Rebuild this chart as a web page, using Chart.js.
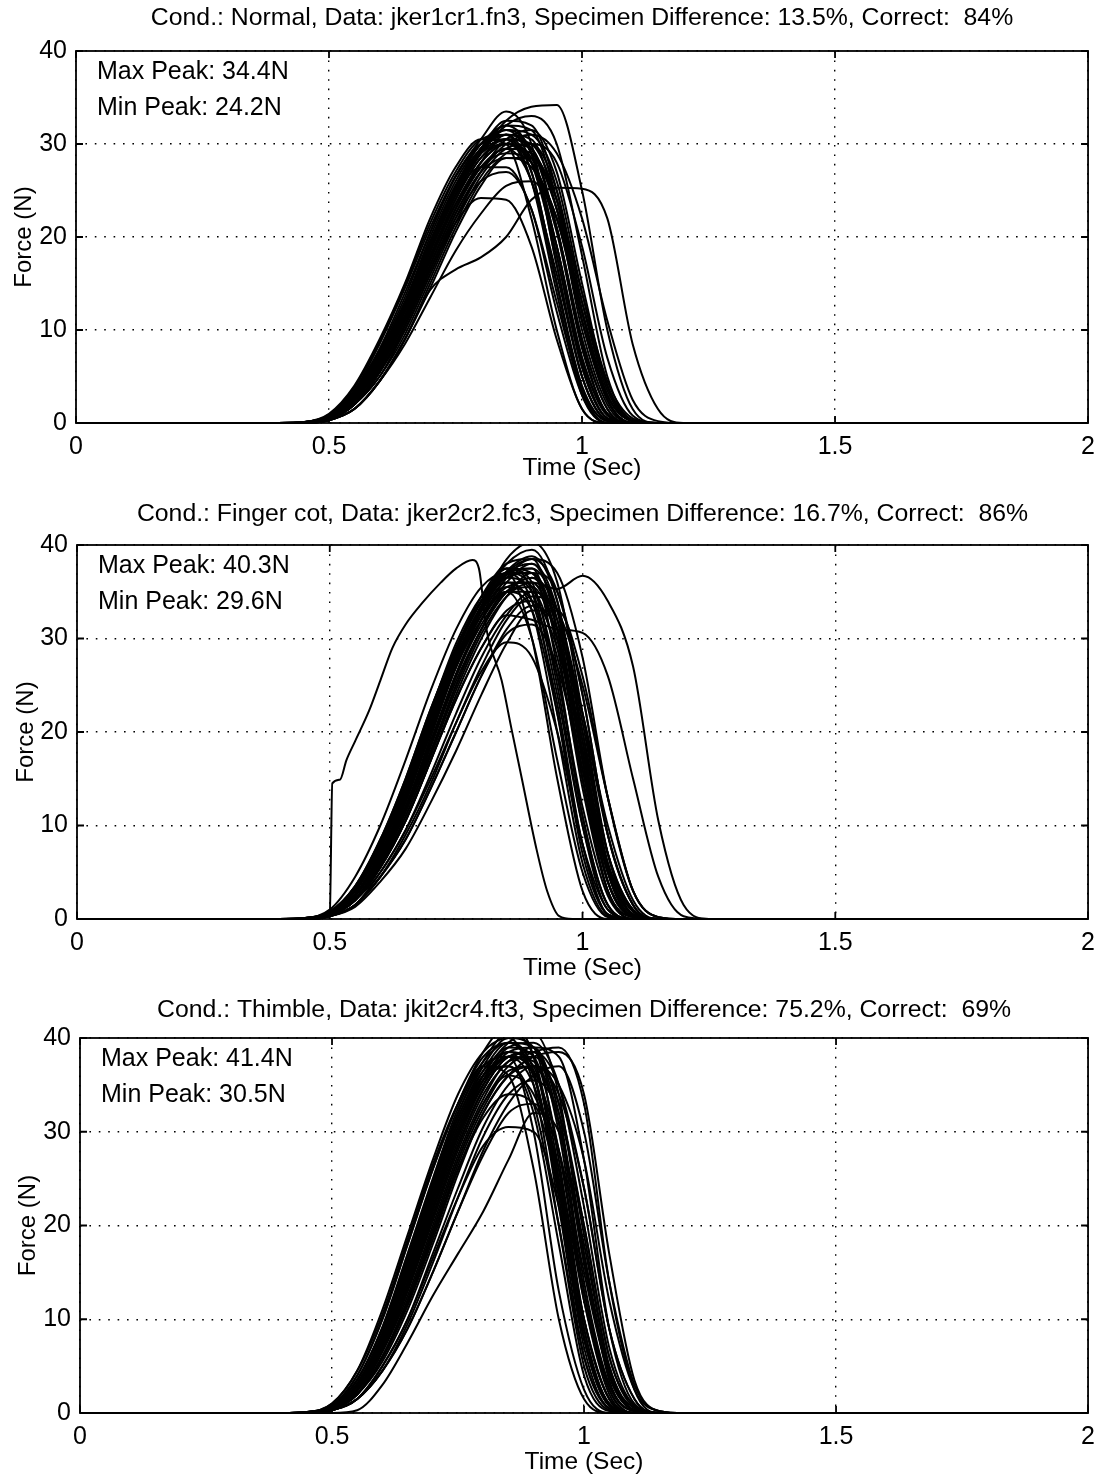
<!DOCTYPE html>
<html>
<head>
<meta charset="utf-8">
<title>Force vs time</title>
<script src="https://cdn.jsdelivr.net/npm/chart.js@4.4.1/dist/chart.umd.min.js"></script>
<style>
  html, body { margin: 0; padding: 0; background: #fff; }
  body { width: 1104px; height: 1477px; position: relative; overflow: hidden; }
  .panel { position: absolute; left: 0; width: 1104px; }
  canvas { display: block; }
</style>
</head>
<body>
<div class="panel" style="top:0px"><canvas id="normal" width="1104" height="493"></canvas></div>
<div class="panel" style="top:494px"><canvas id="finger" width="1104" height="493"></canvas></div>
<div class="panel" style="top:988px"><canvas id="thimble" width="1104" height="489"></canvas></div>
<script>
// axis ticks
const X_TICKS = [0, 0.5, 1, 1.5, 2];
const Y_TICKS = [0, 10, 20, 30, 40];

const TITLES = [
    'Cond.: Normal, Data: jker1cr1.fn3, Specimen Difference: 13.5%, Correct:  84%',
    'Cond.: Finger cot, Data: jker2cr2.fc3, Specimen Difference: 16.7%, Correct:  86%',
    'Cond.: Thimble, Data: jkit2cr4.ft3, Specimen Difference: 75.2%, Correct:  69%'
];
const MAX_PEAKS = ['34.4', '40.3', '41.4'];
const MIN_PEAKS = ['24.2', '29.6', '30.5'];

// sample times (s) shared by the trials
const TIME = [0, 0.4, 0.45, 0.5, 0.55, 0.6, 0.65, 0.7, 0.75, 0.8, 0.85, 0.9, 0.95, 1, 1.05, 1.1, 1.15, 1.2, 1.25, 2];

// force (N) per trial
const NORMAL_FORCE = [
    [0,0,0.1,1,4,9,15,22,27.5,30.5,30,22,10,1.5,0,0,0,0,0,0],
    [0,0,0.1,0.8,3.5,8.5,14.5,21,26.5,30,31,26,14,3,0,0,0,0,0,0],
    [0,0,0.1,0.7,3,7.5,13,19.5,25.5,29.5,31.5,29,18,6,0.5,0,0,0,0,0],
    [0,0,0,0.5,2.5,6.5,11.5,18.5,24.5,29.5,31,29,17,5,0.3,0,0,0,0,0],
    [0,0,0,0.5,2.5,6,11,17.5,23.5,28,30,29.5,21,9,1.5,0,0,0,0,0],
    [0,0,0,0.6,3,7,12.5,19,25,29.5,32,31.5,24,11,2.5,0,0,0,0,0],
    [0,0,0,0.4,2,5.5,10.5,17,23,27.5,29.5,26,15,4,0.2,0,0,0,0,0],
    [0,0,0,0.4,2,5,9.5,15.5,21.5,26.5,29.5,30,25,13,3.5,0.2,0,0,0,0],
    [0,0,0,0.3,1.5,4.5,9,14.5,20.5,25.5,28.5,28.5,23,12,3,0.2,0,0,0,0],
    [0,0,0.1,0.8,3.5,8,14,20.5,26.5,30.5,33.5,30,17,5,0.3,0,0,0,0,0],
    [0,0,0,0.5,2.5,6.5,12,18.5,24.5,29,32,33,30,18,5,0.3,0,0,0,0],
    [0,0,0,0.5,2.5,6.5,12,18.5,24.5,29,32.5,34,34.2,25,10,1.5,0,0,0,0],
    [0,0,0,0.4,2,5.5,10.5,16.5,22,26,27,23,12,3,0,0,0,0,0,0],
    [0,0,0,0.4,2,5,10,16,21.5,24.2,24,19,9,1.5,0,0,0,0,0,0],
    [0,0,0,0.3,1.5,4.5,9,14.3,16.5,17.8,20,24,25.3,25.2,22,8.5,1.5,0,0,0],
    [0,0,0,0.5,2.5,6.5,11.5,18,23.5,27.5,29,28,21,9,1.5,0,0,0,0,0],
    [0,0,0,0.6,3,7,12.5,19,25,29,30.5,27,15,3.5,0,0,0,0,0,0],
    [0,0,0,0.5,2.5,6.5,12,18.5,24.5,29,31.5,31,26,14,4,0.3,0,0,0,0],
    [0,0,0,0.4,2,5.5,10.5,16.5,22.5,27,28.5,27.5,22,11,2.5,0,0,0,0,0],
    [0,0,0.1,0.7,3.2,7.5,13,19.5,25.5,29.5,31,29,19,7,1,0,0,0,0,0],
    [0,0,0,0.3,1.5,4.5,9,15,21,26,29,30,28,19,7,0.8,0,0,0,0],
    [0,0,0,0.5,2.5,6,11,17,23,27.5,29.5,29,24,14,4.5,0.5,0,0,0,0],
    [0,0,0,0.6,3,7,12.5,19,24.5,27.5,27.5,23,13,3.5,0.2,0,0,0,0,0],
    [0,0,0,0.4,2,5.5,10.5,17,23,28,31,30.5,23,10,2,0,0,0,0,0],
    [0,0,0,0.3,1.5,4.5,8.5,13.5,18.5,22.5,25.5,26,22,13,4,0.3,0,0,0,0],
    [0,0,0,0.4,2,5.5,10.5,16.5,22.5,27,30,31,29,22,11,2.5,0.2,0,0,0],
    [0,0,0,0.6,3,7.5,13,20,26,30,32,29,19,6.5,0.5,0,0,0,0,0],
    [0,0,0,0.5,2.5,6,11.5,18,24,28.5,30,28.5,20.5,8,1,0,0,0,0,0],
    [0,0,0,0.4,2,5.5,10,16,22,27,30.5,31.5,27,15,4,0.3,0,0,0,0],
    [0,0,0,0.5,2.8,6.8,12.2,19,25,29,30,28,22,12,3,0.2,0,0,0,0],
    [0,0,0.1,0.9,3.8,8.8,14.8,21.5,27,30.5,31,27,15,3.5,0,0,0,0,0,0],
    [0,0,0,0.6,3,7.2,12.8,19.5,25.5,30,31.5,28,18,6,0.5,0,0,0,0,0],
    [0,0,0,0.5,2.6,6.6,12,18.5,24.5,29,30.5,29.5,23,11,2.5,0,0,0,0,0],
    [0,0,0.1,0.7,3.3,7.8,13.5,20.5,26.5,30,30.5,26,16,5,0.3,0,0,0,0,0],
    [0,0,0,0.5,2.4,6.2,11.3,17.8,24,28.5,30.5,30,24,12,3,0.2,0,0,0,0],
    [0,0,0,0.6,2.9,7,12.5,19.2,25.3,29.3,31,29.5,21,8.5,1,0,0,0,0,0],
    [0,0,0,0.4,2.2,5.8,11,17.5,23.5,28,30,28,19,7,0.8,0,0,0,0,0],
    [0,0,0,0.5,2.7,6.8,12.3,19,25,29.5,32.5,32,25,12,2.5,0,0,0,0,0]
];

const FINGER_FORCE = [
    [0,0,0.1,1,4.5,10,17,24.5,31,35.5,37,30,15,3,0,0,0,0,0,0],
    [0,0,0.1,0.8,3.5,8.5,15,22.5,29,34,37.5,35,22,7,0.5,0,0,0,0,0],
    [0,0,0,0.6,3,7.5,13.5,21,28,33.5,37,37,27,11,1.5,0,0,0,0,0],
    [0,0,0,0.5,2.5,7,13,20.5,27.5,33,36.5,35,24,10,1.5,0,0,0,0,0],
    [0,0,0,0.5,2.5,6.5,12,19,26,32,36,38,33,18,5,0.3,0,0,0,0],
    [0,0,0,0.6,3,7.5,14,21.5,28.5,34,38,39.5,34,19,5,0.3,0,0,0,0],
    [0,0,0,0.5,2.5,7,13,20.5,27.5,33.5,38.5,40.3,36,22,7,0.5,0,0,0,0],
    [0,0,0,0.4,2,6,11.5,18,25,31,35,36.5,31,17,5,0.3,0,0,0,0],
    [0,0,0,0.4,2,5.5,10.5,17,24,30,34.5,37,35,24,9,1.5,0,0,0,0],
    [0,0,0,0.3,1.5,5,9.5,15.5,22,28,32.5,35,32,20,7,1,0,0,0,0],
    [0,0,0,0.3,1.5,4.5,8.5,14,20,26,30.5,31.5,27,16,5,0.5,0,0,0,0],
    [0,0,0,0.4,2,5,9.5,15,21,26.5,29.6,28,20,8,1,0,0,0,0,0],
    [0,0,0.1,0.8,3.5,8.5,15,22.5,29,34,36,33,20,6,0.3,0,0,0,0,0],
    [0,0,0,0.6,3,7.5,14,21,28,33,35.5,34,26,12,2.5,0,0,0,0,0],
    [0,0,0,0.5,2.5,6.5,12.5,20,27,32.5,36,36,30,16,4,0.3,0,0,0,0],
    [0,0,0,0.5,2.5,7,13,20,27,32,35,33,22,8,0.5,0,0,0,0,0],
    [0,0,0,0.4,2,6,11.5,18.5,25.5,31,35,36.5,33,22,9,1.5,0,0,0,0],
    [0,0,0.1,0.7,3.5,8,14.5,22,29,34.5,38,38.5,31,15,3,0,0,0,0,0],
    [0,0,0,0.5,2.5,6.5,12,19,26,31.5,35,35.5,30,19,7,1,0,0,0,0],
    [0,0,0,0.3,1.5,4.5,9,14.5,21,27,32,34.5,33,25,13,3,0.2,0,0,0],
    [0,0,0,0.6,3,7.5,13.5,21,28.5,34,37.5,36,25,10,1,0,0,0,0,0],
    [0,0,0,0.5,2.5,7,13,20.5,28,33.5,37,38,32,17,4,0.2,0,0,0,0],
    [0,0,0,0.4,2,5.5,10.5,17,23.5,29,33,34,29,18,6,0.8,0,0,0,0],
    [0,0,0,0.5,2.5,6.5,12,19.5,27,33,37,38.5,35,24,9,1.5,0,0,0,0],
    [0,0,0,0.6,3,7.5,14,21.5,28.5,34,37.5,37,30,15,3,0.2,0,0,0,0],
    [0,0,0,0.3,1.5,4.5,8.5,14,20,26,31,33.5,31,22,10,2,0,0,0,0],
    [0,0,0,0.5,2.5,6.5,12.5,20,27,32.5,35,30,17,5,0.2,0,0,0,0,0],
    [0,0,0,0.4,2,6,11.5,18.5,26,32,36.5,38.5,37,28,13,3,0.2,0,0,0],
    [0,0,0,0.4,2,5.5,11,17.5,24.5,30.5,34.5,36,35.3,36.7,34,27,10.5,1.5,0,0],
    [0,0,0,0.4,2,5.5,10.5,17,23.5,29,32.5,32,31,30.6,26,15,4.5,0.3,0,0],
    [0,0,0,0.3,1.3,4,7.5,12.5,18,24,29.5,33,33,26,13,3,0.2,0,0,0],
    [0,0,0,0.6,3.2,8,14.5,22,29,34,37,35.5,26,11,1.5,0,0,0,0,0],
    [0,0,0,0.5,2.7,7,13,20.5,27.5,33,36.5,37,31,17,4,0.3,0,0,0,0],
    [0,0,0.1,0.7,3.4,8.3,14.8,22.3,29.5,34.5,37,34,23,8,0.5,0,0,0,0,0],
    [0,0,0,0.5,2.5,6.8,12.7,20,27.3,33,36.8,37.5,33,21,7,0.8,0,0,0,0],
    [0,0,0,0.4,2.2,6.2,11.8,19,26.3,32,35.5,36,30,18,5.5,0.5,0,0,0,0],
    [0,0,0,0.6,3,7.7,14.2,21.7,28.8,34,37,37.5,29,14,3,0.2,0,0,0,0],
    [0,0,0,0.5,2.6,6.9,12.8,20.2,27.5,33.2,37.2,38.8,34,20,6,0.5,0,0,0,0],
    [0,0,0,0.4,2.1,5.8,11,17.8,25,31,35,35,28,15,4,0.3,0,0,0,0]
];

// the finger-cot trial that jumps at 0.5 s has its own sampling
const FINGER_EARLY_TIME = [0, 0.4, 0.45, 0.495, 0.5, 0.505, 0.52, 0.533, 0.55, 0.578, 0.6, 0.624, 0.65, 0.683, 0.72, 0.75, 0.782, 0.795, 0.81, 0.84, 0.86, 0.88, 0.908, 0.93, 0.954, 0.98, 2];
const FINGER_EARLY_FORCE = [0, 0, 0.1, 0.3, 0.5, 14.5, 14.9, 17, 19, 22.3, 25.5, 29, 31.5, 33.8, 36, 37.5, 38.4, 37.5, 31, 25.5, 20.2, 15, 7.7, 3, 0.3, 0, 0];

const THIMBLE_FORCE = [
    [0,0,0.1,1,4.5,11,19,27,34,38.5,40,35,20,5,0.3,0,0,0,0,0],
    [0,0,0.1,0.8,4,10,18,26,33,38.5,41.4,38,24,8,0.8,0,0,0,0,0],
    [0,0,0.1,0.7,3.5,9,16.5,24.5,31.5,37,40,39,27,10,1.5,0,0,0,0,0],
    [0,0,0,0.6,3,8,15,23,30,35.5,38,36,22,6,0.5,0,0,0,0,0],
    [0,0,0,0.5,2.5,7,13.5,21,28.5,34.5,38,38.5,30,13,2.5,0,0,0,0,0],
    [0,0,0,0.5,2.5,7,13,20.5,28,34,37.5,39,38,27,9,1,0,0,0,0],
    [0,0,0,0.4,2,6,12,19.5,27,33,37,38.5,39,33,14,2.5,0,0,0,0],
    [0,0,0,0.4,2,5.5,11,18,25.5,32,36,38,38.5,34,17,3.5,0.2,0,0,0],
    [0,0,0,0.6,3,8.5,16,24,31,36,37,32,18,4,0.2,0,0,0,0,0],
    [0,0,0,0.5,2.5,7.5,14.5,22.5,30,35.5,38.5,37,25,9,1,0,0,0,0,0],
    [0,0,0,0.4,2,6,12,19,26,31.5,34,33,24,10,1.5,0,0,0,0,0],
    [0,0,0,0.3,1.5,5,10,16.5,23,28.5,30.5,30,22,8,1,0,0,0,0,0],
    [0,0,0,0.3,1.5,4.5,9.5,16,23,29.5,34,35.5,32,20,6,0.8,0,0,0,0],
    [0,0,0,0,0.3,3,7.5,12.5,17,21.5,27,32,30,18,5,0.3,0,0,0,0],
    [0,0,0.1,0.8,4,10,18,26,33,38,39.5,36,24,8,0.8,0,0,0,0,0],
    [0,0,0,0.6,3,8,15.5,23.5,31,36.5,39.5,39,31,14,3,0.2,0,0,0,0],
    [0,0,0,0.5,2.5,7,14,22,29.5,35,38,36.5,28,13,3,0.2,0,0,0,0],
    [0,0,0,0.4,2,6.5,12.5,20,27.5,33.5,37.5,38,33,19,5,0.5,0,0,0,0],
    [0,0,0,0.5,2.5,7.5,14.5,22.5,30,36,39.5,40.5,34,17,3.5,0.2,0,0,0,0],
    [0,0,0,0.3,1.5,4.5,9,15,21.5,28,33,36,37,30,14,3,0.2,0,0,0],
    [0,0,0,0.6,3,8,15,23,30.5,35.5,37,33,20,6,0.5,0,0,0,0,0],
    [0,0,0,0.5,2.5,7,13.5,21.5,29,35,38.5,39,32,16,4,0.3,0,0,0,0],
    [0,0,0,0.4,2,6,11.5,18.5,26,32,36,37,34,24,9,1.5,0,0,0,0],
    [0,0,0,0.3,1.5,4.5,9,15,21.5,27.5,32,33,28,15,4,0.3,0,0,0,0],
    [0,0,0.1,0.7,3.5,9,16.5,24.5,32,37.5,40.5,38,26,9,1,0,0,0,0,0],
    [0,0,0,0.5,2.5,7,13.5,21,28.5,34.5,38,38.5,35,24,9,1.5,0,0,0,0],
    [0,0,0,0.4,2,6,12,19.5,27,33,36,34,26,12,2.5,0,0,0,0,0],
    [0,0,0,0.3,1.5,5,10,17,24,30.5,35,37,35,27,12,2.5,0.2,0,0,0],
    [0,0,0.1,1,4.5,10.5,18.5,26.5,33,37,36,26,10,1.5,0,0,0,0,0,0],
    [0,0,0,0.6,3,8.5,16,24.5,32,37,38,30,13,2.5,0,0,0,0,0,0],
    [0,0,0,0.6,3.2,8.5,16,24,31.5,36.5,38.5,36,24,8,0.8,0,0,0,0,0],
    [0,0,0,0.5,2.8,7.8,15,23,30.5,36,39,38,28,12,2,0,0,0,0,0],
    [0,0,0.1,0.7,3.6,9.2,17,25,32.5,37.5,39.5,36.5,23,7,0.5,0,0,0,0,0],
    [0,0,0,0.5,2.6,7.2,14,22,29.5,35,38,37.5,31,16,4,0.3,0,0,0,0],
    [0,0,0,0.4,2.3,6.6,13,21,28.5,34.5,38,38.5,33,20,6,0.6,0,0,0,0],
    [0,0,0,0.6,3,8.2,15.5,23.5,31,36,38,35,25,10,1.5,0,0,0,0,0],
    [0,0,0,0.5,2.5,7,13.8,21.8,29.5,35.5,39,39.5,35,22,7,0.8,0,0,0,0],
    [0,0,0,0.4,2,5.8,11.5,19,26.5,32.5,36.5,37,31,17,4.5,0.3,0,0,0,0]
];

const FONT = '"Liberation Sans", Arial, Helvetica, sans-serif';

// plot box and text placement per panel, in canvas pixels
const PANELS = [
    { id: 'normal', curves: NORMAL_FORCE, top: 51, bottom: 423, left: 76, right: 1089, titleGap: 33, xTitleGap: 45, yTitleX: 24 },
    { id: 'finger', curves: FINGER_FORCE, top: 51, bottom: 425, left: 77, right: 1090, titleGap: 31, xTitleGap: 49, yTitleX: 26,
      extra: [{ t: FINGER_EARLY_TIME, f: FINGER_EARLY_FORCE }] },
    { id: 'thimble', curves: THIMBLE_FORCE, top: 50, bottom: 425, left: 80, right: 1095, titleGap: 28, xTitleGap: 49, yTitleX: 28 }
];

function trace(times, forces) {
    return {
        data: times.map((t, i) => ({ x: t, y: forces[i] })),
        borderColor: '#000',
        borderWidth: 2,
        pointRadius: 0,
        fill: false,
        cubicInterpolationMode: 'monotone',
        clip: { left: 0, top: 0, right: 0, bottom: 1 }
    };
}

const framePlugin = {
    id: 'frame',
    afterDatasetsDraw(chart, args, opts) {
        const { ctx, chartArea: a, scales } = chart;
        ctx.save();
        ctx.strokeStyle = '#000';
        ctx.lineWidth = 1.8;
        ctx.strokeRect(a.left, a.top, a.right - a.left, a.bottom - a.top);
        ctx.beginPath();
        X_TICKS.forEach(v => {
            const px = scales.x.getPixelForValue(v);
            ctx.moveTo(px, a.bottom); ctx.lineTo(px, a.bottom - 7);
            ctx.moveTo(px, a.top); ctx.lineTo(px, a.top + 7);
        });
        Y_TICKS.forEach(v => {
            const py = scales.y.getPixelForValue(v);
            ctx.moveTo(a.left, py); ctx.lineTo(a.left + 7, py);
            ctx.moveTo(a.right, py); ctx.lineTo(a.right - 7, py);
        });
        ctx.stroke();
        ctx.restore();
    },
    afterDraw(chart, args, opts) {
        const { ctx, chartArea: a } = chart;
        const cx = (a.left + a.right) / 2;
        ctx.save();
        ctx.fillStyle = '#000';
        ctx.textBaseline = 'middle';
        ctx.font = '24.8px ' + FONT;
        ctx.textAlign = 'center';
        ctx.fillText(opts.title, cx, a.top - opts.titleGap);
        ctx.font = '24.5px ' + FONT;
        ctx.fillText('Time (Sec)', cx, a.bottom + opts.xTitleGap);
        ctx.textAlign = 'left';
        ctx.font = '25px ' + FONT;
        ctx.fillText('Max Peak: ' + opts.maxPeak + 'N', a.left + 21, a.top + 21);
        ctx.fillText('Min Peak: ' + opts.minPeak + 'N', a.left + 21, a.top + 57);
        ctx.font = '24px ' + FONT;
        ctx.translate(opts.yTitleX, (a.top + a.bottom) / 2);
        ctx.rotate(-Math.PI / 2);
        ctx.textAlign = 'center';
        ctx.fillText('Force (N)', 0, 0);
        ctx.restore();
    }
};

function makeChart(p, idx) {
    const canvas = document.getElementById(p.id);
    const datasets = p.curves.map(c => trace(TIME, c));
    (p.extra || []).forEach(e => datasets.push(trace(e.t, e.f)));
    const tickFont = { family: FONT, size: 25 };
    return new Chart(canvas.getContext('2d'), {
        type: 'line',
        data: { datasets },
        options: {
            responsive: false,
            animation: false,
            events: [],
            layout: { padding: { top: p.top, right: canvas.width - p.right, left: 0, bottom: 0 } },
            plugins: {
                legend: { display: false },
                tooltip: { enabled: false },
                frame: {
                    title: TITLES[idx], maxPeak: MAX_PEAKS[idx], minPeak: MIN_PEAKS[idx],
                    titleGap: p.titleGap, xTitleGap: p.xTitleGap, yTitleX: p.yTitleX
                }
            },
            scales: {
                x: {
                    type: 'linear', min: 0, max: 2,
                    afterBuildTicks: s => { s.ticks = X_TICKS.map(v => ({ value: v })); },
                    afterFit: s => { s.height = canvas.height - p.bottom; },
                    ticks: { color: '#000', font: tickFont, padding: 9, maxRotation: 0, callback: v => String(v) },
                    grid: { color: '#000', lineWidth: 1.4, drawTicks: false },
                    border: { display: false, dash: [1.6, 7.8] }
                },
                y: {
                    min: 0, max: 40,
                    afterBuildTicks: s => { s.ticks = Y_TICKS.map(v => ({ value: v })); },
                    afterFit: s => { s.width = p.left; },
                    ticks: { color: '#000', font: tickFont, padding: 9, callback: v => String(v) },
                    grid: { color: '#000', lineWidth: 1.4, drawTicks: false },
                    border: { display: false, dash: [1.6, 7.8] }
                }
            }
        },
        plugins: [framePlugin]
    });
}

PANELS.forEach(makeChart);
</script>
</body>
</html>
